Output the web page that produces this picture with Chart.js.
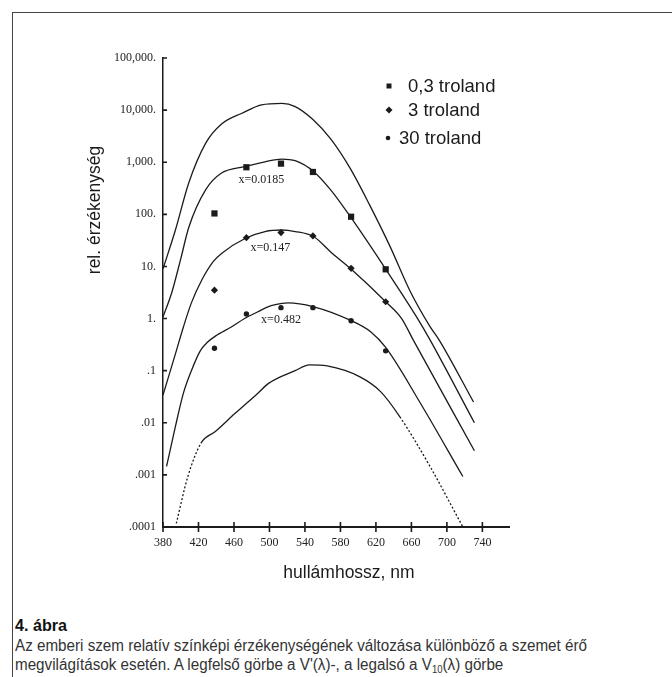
<!DOCTYPE html>
<html lang="hu">
<head>
<meta charset="utf-8">
<title>4. ábra</title>
<script src="https://cdn.jsdelivr.net/npm/chart.js@4.4.1/dist/chart.umd.min.js"></script>
<style>
  html, body { margin: 0; padding: 0; background: #fff; }
  body { width: 672px; height: 677px; position: relative; overflow: hidden; }
  #frame { position: absolute; left: 12px; top: 12px; right: -4px; bottom: -4px;
           border-top: 1.5px solid #444; border-left: 1.5px solid #444; }
  #chart { position: absolute; left: 0; top: 0; }
  #caption { position: absolute; left: 15px; top: 616px; color: #333; white-space: nowrap;
             font-family: 'Liberation Sans', Arial, sans-serif; transform-origin: 0 0; }
  #caption .fig { font-weight: bold; font-size: 17px; line-height: 20px; color: #111; }
  #caption .txt { font-size: 16px; line-height: 19px; }
  #caption sub { font-size: 10px; vertical-align: -3px; line-height: 0; }
</style>
</head>
<body>
<div id="frame"></div>
<canvas id="chart" width="672" height="600"></canvas>
<div id="caption">
  <div class="fig">4. ábra</div>
  <div class="txt"><span id="line1">Az emberi szem relatív színképi érzékenységének változása különböző a szemet érő</span><br>megvilágítások esetén. A legfelső görbe a V'(λ)-, a legalsó a V<sub>10</sub>(λ) görbe</div>
</div>
<script>
// Relative spectral sensitivity of the eye at different retinal illuminances
// All values (log) figure

// Axes
const xTicks = [380, 420, 460, 500, 540, 580, 620, 660, 700, 740];
const yTicks = [0.0001, 0.001, 0.01, 0.1, 1, 10, 100, 1000, 10000, 100000];
const yTickLabels = ['.0001', '.001', '.01', '.1', '1.', '10.', '100.', '1,000.', '10,000.', '100,000.'];

// Fitted curves: wavelength (nm) and relative sensitivity
const topNm  = [380, 394, 409, 428, 446, 469, 491, 514, 529, 549, 569, 591, 613, 636, 658, 681, 692, 730];
const topVal = [9, 50, 400, 2300, 5400, 8700, 12600, 13500, 11700, 6600, 2800, 760, 150, 24, 3.5, 0.7, 0.37, 0.025];

const c03Nm  = [380, 390, 400, 409, 428, 446, 473, 495, 514, 529, 550, 569, 591, 631, 667, 681, 731];
const c03Val = [1.07, 3.2, 14, 56, 295, 620, 830, 1020, 1150, 1070, 660, 295, 91, 8.9, 1.0, 0.39, 0.01];

const c3Nm  = [380, 394, 403, 412, 424, 437, 446, 473, 495, 514, 529, 550, 569, 591, 631, 649, 662, 731];
const c3Val = [0.034, 0.21, 0.69, 2.0, 5.6, 12.6, 17.8, 34.7, 46.8, 50, 46.8, 37.2, 19, 9.2, 2.1, 1.0, 0.39, 0.0029];

const c30Nm  = [384, 394, 403, 412, 422, 430, 439, 457, 472, 487, 499, 514, 521, 549, 591, 614, 631, 670, 718];
const c30Val = [0.00145, 0.0085, 0.037, 0.10, 0.24, 0.35, 0.46, 0.69, 1.0, 1.35, 1.7, 1.95, 2.0, 1.7, 0.93, 0.56, 0.28, 0.024, 0.00093];

const v10Nm  = [395, 408, 423, 439, 461, 487, 499, 529, 545, 565, 602, 625, 647, 681, 718];
const v10Val = [0.000117, 0.00093, 0.0041, 0.0068, 0.015, 0.037, 0.057, 0.10, 0.129, 0.123, 0.076, 0.040, 0.013, 0.00145, 0.0001];
const v10SolidFrom = 423;   // dotted outside this range
const v10SolidTo = 647;

// Measured points
const pointNm = [438, 474, 513, 549, 592, 631];
const tr03 = [104, 800, 940, 650, 90, 8.8];
const tr3  = [3.5, 35.7, 44.6, 38.5, 9.2, 2.1];
const tr30 = [0.27, 1.22, 1.62, 1.62, 0.91, 0.24];
const seriesLabels = ['0,3 troland', '3 troland', '30 troland'];

// Curve notes
const noteText = ['x=0.0185', 'x=0.147', 'x=0.482'];
const noteNm   = [491, 501, 513];
const noteVal  = [457, 22.6, 0.94];

const INK = '#1b1b1b';

function xy(xs, ys) {
    return xs.map((x, i) => ({ x: x, y: ys[i] }));
}

function curve(xs, ys, extra) {
    return Object.assign({
        data: xy(xs, ys),
        borderColor: INK,
        borderWidth: 1.3,
        pointRadius: 0,
        fill: false,
        cubicInterpolationMode: 'monotone'
    }, extra || {});
}

function marks(label, ys, style, radius) {
    return {
        label: label,
        data: xy(pointNm, ys),
        showLine: false,
        pointStyle: style,
        pointRadius: radius,
        pointBackgroundColor: INK,
        pointBorderColor: INK,
        pointBorderWidth: 0
    };
}

const datasets = [
    curve(topNm, topVal),
    curve(c03Nm, c03Val),
    curve(c3Nm, c3Val),
    curve(c30Nm, c30Val),
    curve(v10Nm, v10Val, {
        segment: {
            borderDash: ctx => (ctx.p1.parsed.x <= v10SolidFrom || ctx.p0.parsed.x >= v10SolidTo) ? [2, 2] : undefined
        }
    }),
    marks(seriesLabels[0], tr03, 'rect', 4.4),
    marks(seriesLabels[1], tr3, 'rectRot', 3.6),
    marks(seriesLabels[2], tr30, 'circle', 2.7)
];

// Extra drawing: tick marks, titles, legend, notes
const figureExtras = {
    id: 'figureExtras',
    afterDraw(chart) {
        const ctx = chart.ctx;
        const xs = chart.scales.x;
        const ys = chart.scales.y;
        ctx.save();

        // x ticks cross the axis, y ticks point inward
        ctx.strokeStyle = INK;
        ctx.lineWidth = 1.6;
        ctx.beginPath();
        xTicks.forEach(v => {
            const px = xs.getPixelForValue(v);
            ctx.moveTo(px, ys.bottom - 5);
            ctx.lineTo(px, ys.bottom + 5);
        });
        yTicks.forEach(v => {
            const py = ys.getPixelForValue(v);
            ctx.moveTo(xs.left, py);
            ctx.lineTo(xs.left + 4, py);
        });
        ctx.stroke();

        // curve notes
        ctx.fillStyle = '#222';
        ctx.font = '12px "Liberation Serif"';
        ctx.textAlign = 'center';
        ctx.textBaseline = 'middle';
        noteText.forEach((t, i) => {
            ctx.fillText(t, xs.getPixelForValue(noteNm[i]), ys.getPixelForValue(noteVal[i]));
        });

        // axis titles
        ctx.fillStyle = INK;
        ctx.font = '17.5px "Liberation Sans"';
        ctx.fillText('hullámhossz, nm', 349, 573);
        ctx.save();
        ctx.translate(95, 210);
        ctx.rotate(-Math.PI / 2);
        ctx.fillText('rel. érzékenység', 0, 0);
        ctx.restore();

        // legend
        const rows = [[389, 86, 408], [389, 110, 408], [388, 138, 399]];
        ctx.font = '18.5px "Liberation Sans"';
        ctx.textAlign = 'left';
        rows.forEach((r, i) => {
            const [mx, my, tx] = r;
            ctx.beginPath();
            if (i === 0) {
                ctx.rect(mx - 2.5, my - 2.5, 5, 5);
            } else if (i === 1) {
                ctx.moveTo(mx - 3.5, my);
                ctx.lineTo(mx, my - 3.5);
                ctx.lineTo(mx + 3.5, my);
                ctx.lineTo(mx, my + 3.5);
                ctx.closePath();
            } else {
                ctx.arc(mx, my, 2.3, 0, Math.PI * 2);
            }
            ctx.fill();
            ctx.fillText(seriesLabels[i], tx, my + 1);
        });

        ctx.restore();
    }
};

const tickFont = { family: 'Liberation Serif', size: 12 };

new Chart(document.getElementById('chart').getContext('2d'), {
    type: 'line',
    data: { datasets: datasets },
    options: {
        responsive: false,
        animation: false,
        layout: { padding: { left: 0, top: 58, right: 163, bottom: 13 } },
        plugins: {
            legend: { display: false },
            tooltip: { enabled: false }
        },
        scales: {
            x: {
                type: 'linear',
                min: 380,
                max: 770,
                afterBuildTicks: s => { s.ticks = xTicks.map(v => ({ value: v })); },
                afterFit: s => { s.height = 60; },
                grid: { drawOnChartArea: false, drawTicks: false },
                border: { display: true, color: INK, width: 2 },
                ticks: { font: tickFont, color: '#222', padding: 9, autoSkip: false, maxRotation: 0 }
            },
            y: {
                type: 'logarithmic',
                min: 0.0001,
                max: 100000,
                afterBuildTicks: s => { s.ticks = yTicks.map(v => ({ value: v })); },
                afterFit: s => { s.width = 163; },
                grid: { drawOnChartArea: false, drawTicks: false },
                border: { display: true, color: INK, width: 1.5 },
                ticks: {
                    font: tickFont,
                    color: '#222',
                    padding: 7,
                    autoSkip: false,
                    callback: v => yTickLabels[yTicks.indexOf(v)]
                }
            }
        }
    },
    plugins: [figureExtras]
});

// the caption is set in a condensed face: squeeze it to the original line length
const line1 = document.getElementById('line1');
const squeeze = 572 / line1.getBoundingClientRect().width;
document.getElementById('caption').style.transform = 'scaleX(' + squeeze.toFixed(3) + ')';
</script>
</body>
</html>
